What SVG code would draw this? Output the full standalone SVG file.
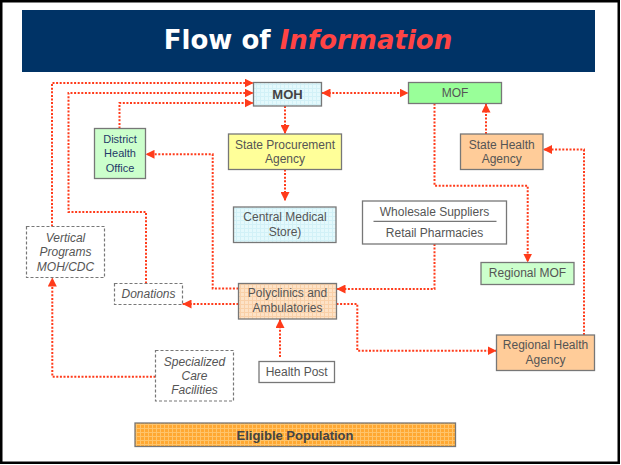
<svg xmlns="http://www.w3.org/2000/svg" width="621" height="465" viewBox="0 0 621 465">
<style>
.box{stroke:#777;stroke-width:1.3}
.dbox{fill:#fff;stroke:#777;stroke-width:1.2;stroke-dasharray:3 2}
.t{font-family:"Liberation Sans",Arial,sans-serif;font-size:12px;fill:#555;text-anchor:middle}
.ti{font-family:"Liberation Sans",Arial,sans-serif;font-size:12px;fill:#555;text-anchor:middle;font-style:italic}
.tb{font-family:"Liberation Sans",Arial,sans-serif;font-size:13px;fill:#444;text-anchor:middle;font-weight:bold}
.td{font-family:"Liberation Sans",Arial,sans-serif;font-size:11px;fill:#1F3A68;text-anchor:middle}
.c{fill:none;stroke:#FF3B1A;stroke-width:2;stroke-dasharray:2 1.6}
</style>
<defs>
<marker id="ah" markerUnits="userSpaceOnUse" markerWidth="9" markerHeight="9" refX="8" refY="4" orient="auto-start-reverse" viewBox="0 0 8 8">
<path d="M0,0 L8,4 L0,8 z" fill="#FF3B1A"/>
</marker>
<pattern id="gCyan" width="4" height="4" patternUnits="userSpaceOnUse">
<rect width="4" height="4" fill="#E4F9FC"/>
<path d="M0,0.5 H4 M0.5,0 V4" stroke="#D2F1F7" stroke-width="1"/>
</pattern>
<pattern id="gPeach" width="4" height="4" patternUnits="userSpaceOnUse">
<rect width="4" height="4" fill="#FDE2C6"/>
<path d="M0,0.5 H4 M0.5,0 V4" stroke="#F9D0A8" stroke-width="1"/>
</pattern>
<pattern id="gOrange" width="4" height="4" patternUnits="userSpaceOnUse">
<rect width="4" height="4" fill="#FFA832"/>
<path d="M0,0.5 H4 M0.5,0 V4" stroke="#FFC46A" stroke-width="1"/>
</pattern>
</defs>
<rect x="1.25" y="1.25" width="617.5" height="461.5" fill="#fff" stroke="#000" stroke-width="2.5"/>
<g id="title">
<rect x="22" y="10" width="573" height="62" fill="#003366"/>
<text x="308" y="49" text-anchor="middle" font-family="'DejaVu Sans',Verdana,sans-serif" font-size="26" font-weight="bold" fill="#fff">Flow of <tspan fill="#FF4444" font-style="italic">Information</tspan></text>
</g>
<g id="connectors">
<path class="c" d="M52,226.5 V83 H253.5" marker-end="url(#ah)"/>
<path class="c" d="M146,283.5 V212 H68.5 V93 H253.5" marker-end="url(#ah)"/>
<path class="c" d="M119.5,128.5 V103 H253.5" marker-end="url(#ah)"/>
<path class="c" d="M321.5,93 H408.5" marker-start="url(#ah)" marker-end="url(#ah)"/>
<path class="c" d="M285,106 V134" marker-end="url(#ah)"/>
<path class="c" d="M285,169.5 V201" marker-end="url(#ah)"/>
<path class="c" d="M486,134 V103.5" marker-end="url(#ah)"/>
<path class="c" d="M584,335 V149.5 H543" marker-end="url(#ah)"/>
<path class="c" d="M434.5,103.5 V185.7 H527.7 V262.5" marker-end="url(#ah)"/>
<path class="c" d="M434.5,244 V289 H336.5" marker-end="url(#ah)"/>
<path class="c" d="M238.5,288.5 H212.7 V154.3 H145.5" marker-end="url(#ah)"/>
<path class="c" d="M238.5,304 H182.5" marker-end="url(#ah)"/>
<path class="c" d="M336.5,304 H357.3 V350.7 H496.5" marker-end="url(#ah)"/>
<path class="c" d="M155.5,376.7 H52.3 V277.5" marker-end="url(#ah)"/>
<path class="c" d="M280,357 V319" marker-end="url(#ah)"/>
</g>
<g id="moh">
<rect class="box" x="253.5" y="82.5" width="68" height="23.5" fill="url(#gCyan)"/>
<text class="tb" x="287.5" y="99">MOH</text>
</g>
<g id="mof">
<rect class="box" x="408.5" y="82.5" width="93" height="21" fill="#99FF99"/>
<text class="t" x="455" y="97">MOF</text>
</g>
<g id="district-health-office">
<rect class="box" x="94.5" y="128.5" width="51" height="50" fill="#CCFFCC"/>
<text class="td" x="120" y="142.7">District</text>
<text class="td" x="120" y="157.3">Health</text>
<text class="td" x="120" y="171.7">Office</text>
</g>
<g id="state-procurement-agency">
<rect class="box" x="228.5" y="134" width="113" height="35.5" fill="#FFFF99"/>
<text class="t" x="285" y="148.5">State Procurement</text>
<text class="t" x="285" y="162.5">Agency</text>
</g>
<g id="state-health-agency">
<rect class="box" x="460.5" y="134" width="82.5" height="35.5" fill="#FFCC99"/>
<text class="t" x="501.7" y="149">State Health</text>
<text class="t" x="501.7" y="162.7">Agency</text>
</g>
<g id="central-medical-store">
<rect class="box" x="233.5" y="207" width="102.5" height="35.5" fill="url(#gCyan)"/>
<text class="t" x="285" y="221">Central Medical</text>
<text class="t" x="285" y="235.7">Store)</text>
</g>
<g id="wholesale-retail">
<rect class="box" x="362.5" y="201" width="144" height="43" fill="#fff"/>
<line x1="373.5" y1="221.3" x2="496.5" y2="221.3" stroke="#555" stroke-width="1"/>
<text class="t" x="434.5" y="215.7">Wholesale Suppliers</text>
<text class="t" x="434.5" y="237.3">Retail Pharmacies</text>
</g>
<g id="regional-mof">
<rect class="box" x="481" y="262.5" width="93" height="22" fill="#CCFFCC"/>
<text class="t" x="527.5" y="276.7">Regional MOF</text>
</g>
<g id="polyclinics">
<rect class="box" x="238.5" y="283.5" width="98" height="35.5" fill="url(#gPeach)"/>
<text class="t" x="287.5" y="297.3">Polyclinics and</text>
<text class="t" x="287.5" y="312.3">Ambulatories</text>
</g>
<g id="donations">
<rect class="dbox" x="114.5" y="283.5" width="68" height="21"/>
<text class="ti" x="148.5" y="297.5">Donations</text>
</g>
<g id="vertical-programs">
<rect class="dbox" x="26.5" y="226.5" width="78" height="51"/>
<text class="ti" x="65.5" y="241.7">Vertical</text>
<text class="ti" x="65.5" y="256">Programs</text>
<text class="ti" x="65.5" y="271">MOH/CDC</text>
</g>
<g id="specialized-care">
<rect class="dbox" x="155.5" y="350.5" width="78" height="50.5"/>
<text class="ti" x="194.5" y="365.7">Specialized</text>
<text class="ti" x="194.5" y="380">Care</text>
<text class="ti" x="194.5" y="394.3">Facilities</text>
</g>
<g id="health-post">
<rect class="box" x="259" y="361.5" width="75.5" height="21" fill="#fff"/>
<text class="t" x="296.7" y="375.5">Health Post</text>
</g>
<g id="regional-health-agency">
<rect class="box" x="496.5" y="335" width="98" height="35.5" fill="#FFCC99"/>
<text class="t" x="545.5" y="349.3">Regional Health</text>
<text class="t" x="545.5" y="364">Agency</text>
</g>
<g id="eligible-population">
<rect class="box" x="135" y="423" width="320.5" height="23.5" fill="url(#gOrange)"/>
<text class="tb" x="295" y="440">Eligible Population</text>
</g>
</svg>
